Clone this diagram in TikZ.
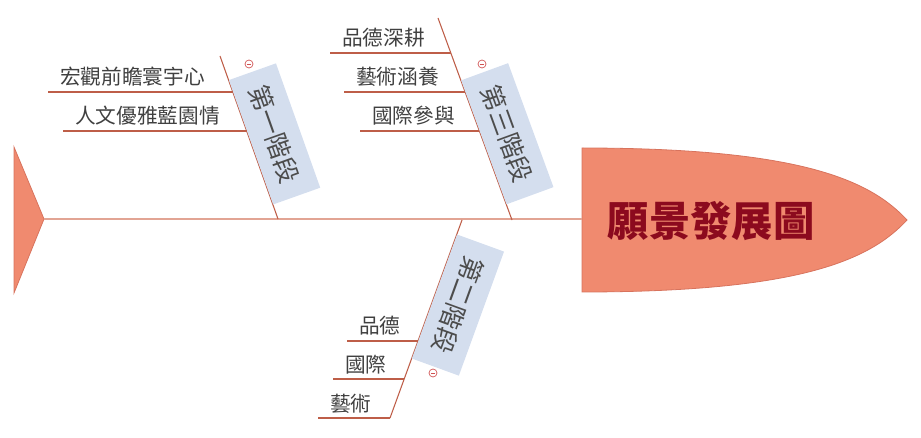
\documentclass[tikz,border=0pt]{standalone}
\usepackage{fontspec}
\setmainfont{Noto Sans CJK TC}
\usetikzlibrary{calc}
\definecolor{fishred}{HTML}{F08A6F}
\definecolor{fishedge}{HTML}{D8735D}
\definecolor{headred}{HTML}{8C0A1E}
\definecolor{boxblue}{HTML}{D4DEEE}
\definecolor{textgray}{HTML}{404040}
\definecolor{stagegray}{HTML}{4C4C4C}
\definecolor{linebrown}{HTML}{BE5E48}
\definecolor{spinepink}{HTML}{E2A494}
\definecolor{foldred}{HTML}{D05050}
\tikzstyle{bone}=[draw=linebrown,line width=0.8pt]
\tikzstyle{twig}=[draw=linebrown,line width=1.5pt]
\tikzstyle{leaf}=[text=textgray,anchor=base west,inner xsep=9pt,font=\fontsize{15.5}{18}\selectfont]
\tikzstyle{stage}=[fill=boxblue,text=stagegray,anchor=south,inner sep=0pt,minimum width=99pt,minimum height=37.5pt,font=\fontsize{19}{22}\selectfont]
\tikzstyle{fold}=[circle,draw=foldred,line width=0.5pt,inner sep=0pt,minimum size=6pt,
  path picture={\draw[foldred,line width=0.5pt] ([xshift=1.4pt]path picture bounding box.west) -- ([xshift=-1.4pt]path picture bounding box.east);}]

\begin{document}
\begin{tikzpicture}[x=0.75pt,y=-0.75pt]
\useasboundingbox (0,0) rectangle (921,438);

% tail and head
\draw[fill=fishred,draw=fishedge,line width=0.6pt] (14,147) -- (44,219) -- (14,293) -- cycle;
\coordinate (tail) at (44,219);
\draw[fill=fishred,draw=fishedge,line width=0.6pt] (582,148) -- (582,292)
  .. controls (800,292) and (870,260) .. (907,220)
  .. controls (870,180) and (800,148) .. (582,148) -- cycle;
\coordinate (head) at (582,219);
\node[text=headred,font=\fontsize{31}{36}\selectfont\bfseries] (title) at (711,221) {願景發展圖};
\draw[draw=spinepink,line width=1.2pt] (tail) -- (head);

% stage 1
\coordinate (s1top) at (220,56);
\coordinate (s1base) at (278,219);
\draw[bone] (s1top) -- (s1base);
\node[stage,rotate=-70.4] (s1) at ($(s1top)!0.53!(s1base)$) {第一階段};
\node[fold] (f1) at (249,64) {};
\coordinate (s1a) at ($(s1top)!0.221!(s1base)$);
\coordinate (s1b) at ($(s1top)!0.460!(s1base)$);
\node[leaf] (l1a) at (48,85) {宏觀前瞻寰宇心};
\node[leaf] (l1b) at (63,124) {人文優雅藍園情};
\draw[twig] (s1a) -- (s1a -| l1a.west);
\draw[twig] (s1b) -- (s1b -| l1b.west);

% stage 3
\coordinate (s3top) at (438,18);
\coordinate (s3base) at (512,220);
\draw[bone] (s3top) -- (s3base);
\node[stage,rotate=-69.9] (s3) at ($(s3top)!0.616!(s3base)$) {第三階段};
\node[fold] (f3) at (482,64) {};
\coordinate (s3a) at ($(s3top)!0.173!(s3base)$);
\coordinate (s3b) at ($(s3top)!0.366!(s3base)$);
\coordinate (s3c) at ($(s3top)!0.559!(s3base)$);
\node[leaf] (l3a) at (330,46) {品德深耕};
\node[leaf] (l3b) at (344,85) {藝術涵養};
\node[leaf] (l3c) at (360,124) {國際參與};
\draw[twig] (s3a) -- (s3a -| l3a.west);
\draw[twig] (s3b) -- (s3b -| l3b.west);
\draw[twig] (s3c) -- (s3c -| l3c.west);

% stage 2
\coordinate (s2top) at (462,220);
\coordinate (s2base) at (390,418);
\draw[bone] (s2top) -- (s2base);
\node[stage,rotate=-110] (s2) at ($(s2top)!0.386!(s2base)$) {第二階段};
\node[fold] (f2) at (433,373) {};
\coordinate (s2a) at ($(s2top)!0.611!(s2base)$);
\coordinate (s2b) at ($(s2top)!0.803!(s2base)$);
\node[leaf] (l2a) at (347,334) {品德};
\node[leaf] (l2b) at (333,372) {國際};
\node[leaf] (l2c) at (318,411) {藝術};
\draw[twig] (s2a) -- (s2a -| l2a.west);
\draw[twig] (s2b) -- (s2b -| l2b.west);
\draw[twig] (s2base) -- (s2base -| l2c.west);
\end{tikzpicture}
\end{document}
